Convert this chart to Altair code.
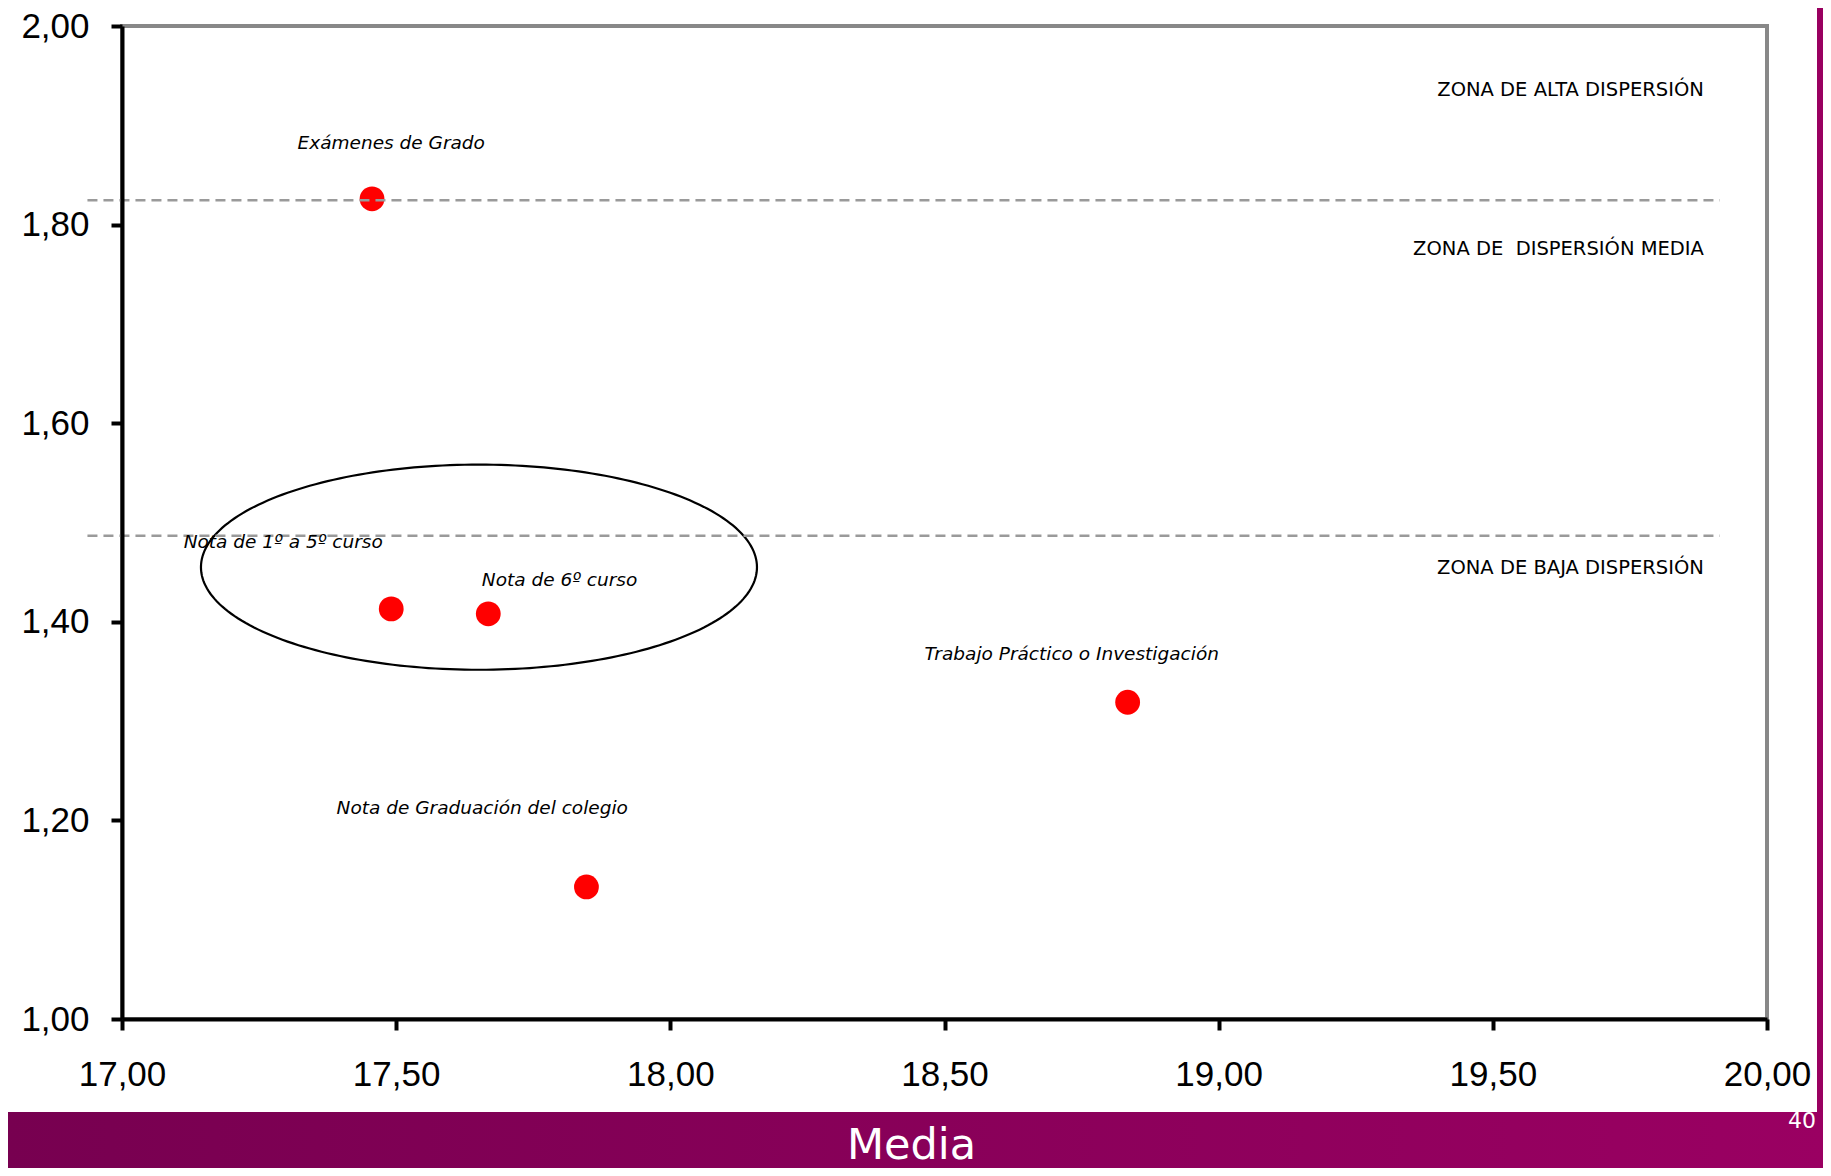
import altair as alt
import numpy as np
import pandas as pd

# ---------------- data ----------------
labels = [
    "Exámenes de Grado",
    "Nota de 1º a 5º curso",
    "Nota de 6º curso",
    "Trabajo Práctico o Investigación",
    "Nota de Graduación del colegio",
]
media = [17.456, 17.491, 17.668, 18.834, 17.847]
desviacion = [1.826, 1.413, 1.408, 1.319, 1.133]
label_x = [17.491, 17.294, 17.798, 18.732, 17.657]
label_y = [1.882, 1.480, 1.442, 1.368, 1.212]

zone_names = ["ZONA DE ALTA DISPERSIÓN", "ZONA DE\u00a0 DISPERSIÓN MEDIA", "ZONA DE BAJA DISPERSIÓN"]
zone_y = [1.936, 1.775, 1.454]
zone_x = [19.885, 19.885, 19.885]

limits = [1.8246, 1.4866]
limit_start = [16.937, 16.937]
limit_end = [19.914, 19.914]

ellipse_center = (17.651, 1.455)
ellipse_radii = (0.507, 0.1033)

x_ticks = [17.0, 17.5, 18.0, 18.5, 19.0, 19.5, 20.0]
y_ticks = [1.0, 1.2, 1.4, 1.6, 1.8, 2.0]

# ---------------- tables ----------------
pts = pd.DataFrame({"media": media, "desv": desviacion})
lab = pd.DataFrame({"label": labels, "lx": label_x, "ly": label_y})
zones = pd.DataFrame({"zone": zone_names, "zx": zone_x, "zy": zone_y})
rules = pd.DataFrame({"x0": limit_start, "x1": limit_end, "lim": limits})
t = np.linspace(0, 2 * np.pi, 241)
ell = pd.DataFrame({
    "i": np.arange(len(t)),
    "ex": ellipse_center[0] + ellipse_radii[0] * np.cos(t),
    "ey": ellipse_center[1] + ellipse_radii[1] * np.sin(t),
})
one = alt.Data(values=[{"k": 1}])

W, H = 1645, 993
PAD_L, PAD_T = 114, 18

xscale = alt.Scale(domain=[17, 20], nice=False, zero=False)
yscale = alt.Scale(domain=[1, 2], nice=False, zero=False)
fmt = "replace(format(datum.value, '.2f'), '.', ',')"

x_axis = alt.Axis(
    values=x_ticks, labelExpr=fmt, grid=False, zindex=1,
    domainColor="black", domainWidth=4, tickColor="black", tickWidth=4, tickSize=11,
    labelFont="Liberation Sans", labelFontSize=35, labelColor="black", labelPadding=27,
    labelFlush=False, labelOverlap=False,
    title="Media", titleFont="DejaVu Sans", titleFontSize=43, titleFontWeight="normal",
    titleColor="white", titleX=789, titleY=139, titleAlign="center", titleBaseline="alphabetic",
)
y_axis = alt.Axis(
    values=y_ticks, labelExpr=fmt, grid=False, zindex=1,
    domainColor="black", domainWidth=4, tickColor="black", tickWidth=4, tickSize=11,
    labelFont="Liberation Sans", labelFontSize=35, labelColor="black", labelPadding=22,
    labelFlush=False, labelOverlap=False, labelBaseline="middle",
    title=None,
)

# bottom purple band (decoration), page y 1112..1168
band_top = 1112 - 8 - PAD_T
band_bottom = 1160 - PAD_T
band = alt.Chart(one).mark_rect(
    color=alt.Gradient(
        gradient="linear",
        stops=[alt.GradientStop(color="#770050", offset=0), alt.GradientStop(color="#9a0062", offset=1)],
        x1=0, x2=1, y1=0, y2=0,
    ),
    clip=False,
).encode(x=alt.value(-PAD_L), x2=alt.value(1815 - PAD_L), y=alt.value(band_top), y2=alt.value(band_bottom))

strip = alt.Chart(one).mark_rect(color="#990060", clip=False).encode(
    x=alt.value(1809 - PAD_L), x2=alt.value(1815 - PAD_L), y=alt.value(-PAD_T), y2=alt.value(band_top)
)

page_no = alt.Chart(one).mark_text(
    text="40", color="white", font="DejaVu Sans", fontSize=22, align="left", baseline="alphabetic"
).encode(x=alt.value(1666), y=alt.value(band_top + 16))

points = alt.Chart(pts).mark_point(
    filled=True, shape="circle", size=615, color="#ff0000", opacity=1
).encode(
    x=alt.X("media:Q", scale=xscale, axis=x_axis),
    y=alt.Y("desv:Q", scale=yscale, axis=y_axis),
)

ellipse = alt.Chart(ell).mark_line(color="black", strokeWidth=2.2, clip=False).encode(
    x=alt.X("ex:Q", scale=xscale, axis=x_axis),
    y=alt.Y("ey:Q", scale=yscale, axis=y_axis),
    order="i:Q",
)

lines = alt.Chart(rules).mark_rule(
    color="#9a9a9a", strokeWidth=2.5, strokeDash=[10, 6], clip=False
).encode(
    x=alt.X("x0:Q", scale=xscale, axis=x_axis),
    x2="x1:Q",
    y=alt.Y("lim:Q", scale=yscale, axis=y_axis),
)

point_labels = alt.Chart(lab).mark_text(
    font="DejaVu Sans", fontStyle="italic", fontSize=18.5, color="black",
    align="center", baseline="middle",
).encode(
    x=alt.X("lx:Q", scale=xscale, axis=x_axis),
    y=alt.Y("ly:Q", scale=yscale, axis=y_axis),
    text="label:N",
)

zone_labels = alt.Chart(zones).mark_text(
    font="DejaVu Sans", fontSize=19.5, color="black", align="right", baseline="middle",
).encode(
    x=alt.X("zx:Q", scale=xscale, axis=x_axis),
    y=alt.Y("zy:Q", scale=yscale, axis=y_axis),
    text="zone:N",
)

chart = alt.layer(
    band, points, ellipse, lines, point_labels, zone_labels, page_no, strip
).properties(
    width=W,
    height=H,
    padding={"left": PAD_L, "top": PAD_T, "right": 1815 - PAD_L - W, "bottom": 1160 - PAD_T - H},
    autosize=alt.AutoSizeParams(type="none"),
    background="white",
).configure_view(stroke="#888888", strokeWidth=4)

chart.save("out.html", embed_options={"renderer": "svg", "actions": False})
